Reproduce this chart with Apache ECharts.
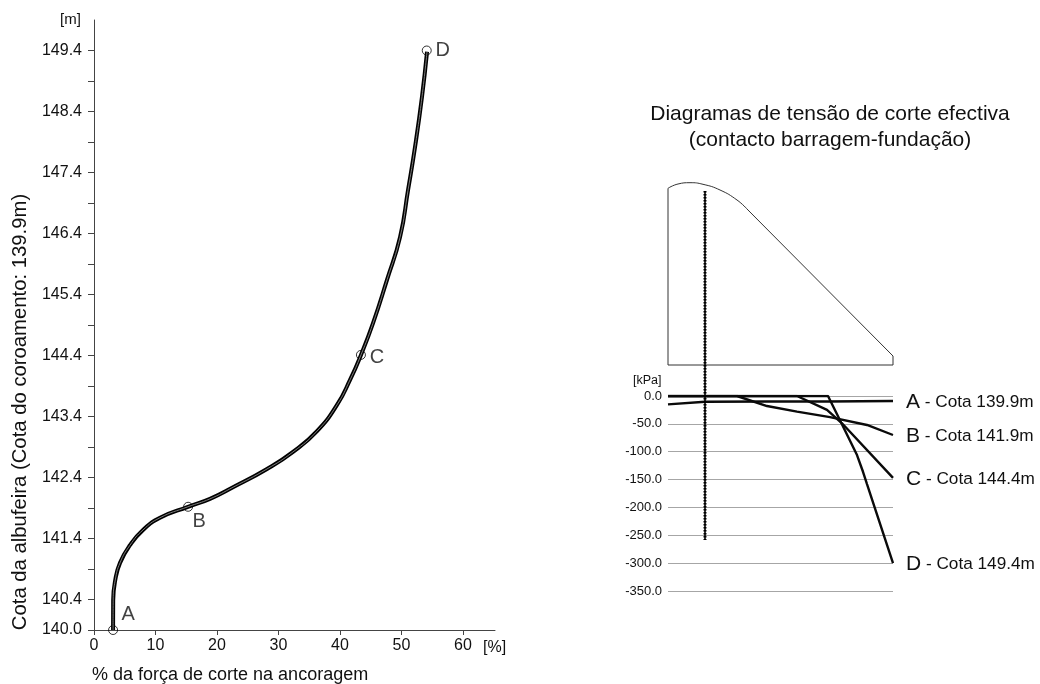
<!DOCTYPE html>
<html>
<head>
<meta charset="utf-8">
<style>html,body{margin:0;padding:0;background:#fff}#c{width:1040px;height:684px}</style>
<script src="https://cdn.jsdelivr.net/npm/echarts@6/dist/echarts.min.js"></script>
</head>
<body>
<div id="c"></div>
<script>
// Left chart: anchor shear force share against reservoir level
const forcePct = [3.1,3.12,3.46,4.23,5.85,7.97,10.73,15.28,18.86,22.6,28.13,32.36,36.26,39.51,41.63,43.41,45.37,47.64,49.76,51.06,52.2,53.33,54.15];
const level = [139.9,140.39,140.72,141.0,141.29,141.54,141.74,141.92,142.05,142.24,142.54,142.82,143.16,143.59,144.0,144.41,144.93,145.64,146.34,147.11,147.82,148.64,149.38];
const keyPoints = [['A',3.1,139.9],['B',15.3,141.92],['C',43.4,144.41],['D',54.1,149.4]];
const xTicks = [0,10,20,30,40,50,60];
const yTicks = [139.9,140.4,140.9,141.4,141.9,142.4,142.9,143.4,143.9,144.4,144.9,145.4,145.9,146.4,146.9,147.4,147.9,148.4,148.9,149.4];
const yLabelValues = [139.9,140.4,141.4,142.4,143.4,144.4,145.4,146.4,147.4,148.4,149.4];
const yLabelTexts = ['140.0','140.4','141.4','142.4','143.4','144.4','145.4','146.4','147.4','148.4','149.4'];

// Right chart: effective shear stress along the dam-foundation contact
const stressA = [[0,-15],[37,-10.2],[100,-10],[160,-10],[225,-9]];
const stressB = [[0,0],[69,0],[99,-18],[129,-28],[162,-38],[199,-52],[225,-70]];
const stressC = [[0,0],[129,0],[159,-25],[174,-49],[225,-147]];
const stressD = [[0,0],[160,0],[171,-40],[189,-106],[195,-136],[199,-158],[225,-300]];
const damCrest = [[0,176.7],[10,181],[22,182.3],[35,180.7],[52,175],[69,165],[79,156]];
const damBody = [[79,156],[225,9],[225,0],[0,0],[0,176.7]];
const anchorLine = [[37,174],[37,-175]];

const FONT = 'Liberation Sans, Arial, sans-serif';
const INK = '#111';
const stressSeries = [stressA, stressB, stressC, stressD].map(d => ({
  type: 'line', xAxisIndex: 1, yAxisIndex: 1, data: d, symbol: 'none', silent: true,
  lineStyle: { color: '#0a0a0a', width: 2.4 }
}));

const chart = echarts.init(document.getElementById('c'), null, { renderer: 'canvas' });
chart.setOption({
  animation: false,
  backgroundColor: '#fff',
  textStyle: { fontFamily: FONT },
  grid: [
    { left: 94, top: 20, width: 401, height: 610 },
    { left: 668, top: 396, width: 225, height: 195 },
    { left: 668, top: 180, width: 225, height: 420 }
  ],
  xAxis: [
    { type: 'value', gridIndex: 0, min: 0, max: 65.2, splitLine: { show: false },
      axisLine: { lineStyle: { color: '#444', width: 1 } },
      axisTick: { length: 5, lineStyle: { color: '#444' }, customValues: xTicks },
      axisLabel: { customValues: xTicks, color: INK, fontSize: 16, margin: 8, fontFamily: FONT } },
    { type: 'value', gridIndex: 1, min: 0, max: 225, show: false },
    { type: 'value', gridIndex: 2, min: 0, max: 225, show: false }
  ],
  yAxis: [
    { type: 'value', gridIndex: 0, min: 139.9, max: 149.9, splitLine: { show: false },
      axisLine: { show: true, lineStyle: { color: '#444', width: 1 } },
      axisTick: { show: true, length: 6, lineStyle: { color: '#444' }, customValues: yTicks },
      axisLabel: { customValues: yLabelValues, color: INK, fontSize: 16, margin: 12, fontFamily: FONT,
        formatter: v => yLabelTexts[yLabelValues.findIndex(t => Math.abs(t - v) < 0.01)] } },
    { type: 'value', gridIndex: 1, min: -350, max: 0, interval: 50,
      axisLine: { show: false }, axisTick: { show: false },
      splitLine: { show: true, lineStyle: { color: '#a6a6a6', width: 1.2 } },
      axisLabel: { color: INK, fontSize: 13, margin: 6, fontFamily: FONT, formatter: v => v.toFixed(1) } },
    { type: 'value', gridIndex: 2, min: -235, max: 185, show: false }
  ],
  series: [
    { type: 'line', data: forcePct.map((x, i) => [x, level[i]]), smooth: true, symbol: 'none', silent: true,
      lineStyle: { color: '#000', width: 4 } },
    { type: 'line', data: forcePct.map((x, i) => [x, level[i]]), smooth: true, symbol: 'none', silent: true,
      lineStyle: { color: '#8a8a8a', width: 0.9 } },
    { type: 'scatter', data: keyPoints.map(p => ({ name: p[0], value: [p[1], p[2]],
        label: { offset: { A: [15,-16], B: [11,15], C: [16,3], D: [16,0] }[p[0]] } })),
      symbol: 'circle', symbolSize: 9, clip: false, silent: true,
      itemStyle: { color: 'rgba(0,0,0,0)', borderColor: '#000', borderWidth: 1 },
      label: { show: true, position: 'inside', formatter: '{b}', fontSize: 20, color: INK, fontFamily: FONT } },
    ...stressSeries,
    { type: 'line', xAxisIndex: 2, yAxisIndex: 2, data: damCrest, smooth: true, symbol: 'none', silent: true,
      lineStyle: { color: '#333', width: 1 } },
    { type: 'line', xAxisIndex: 2, yAxisIndex: 2, data: damBody, symbol: 'none', silent: true,
      lineStyle: { color: '#333', width: 1 } },
    { type: 'line', xAxisIndex: 2, yAxisIndex: 2, data: anchorLine, symbol: 'none', silent: true,
      lineStyle: { color: '#000', width: 3, type: [1.5, 1.5] } },
    { type: 'line', xAxisIndex: 2, yAxisIndex: 2, data: anchorLine, symbol: 'none', silent: true,
      lineStyle: { color: '#000', width: 1.6 } }
  ],
  graphic: [
    { type: 'text', left: 60, top: 12, style: { text: '[m]', fontSize: 15, fill: INK, fontFamily: FONT } },
    { type: 'text', left: 483, top: 640, style: { text: '[%]', fontSize: 16, fill: INK, fontFamily: FONT } },
    { type: 'text', left: 92, top: 666, style: { text: '% da força de corte na ancoragem', fontSize: 18, fill: INK, fontFamily: FONT } },
    { type: 'text', x: 20, y: 412, rotation: Math.PI / 2, style: { text: 'Cota da albufeira (Cota do coroamento: 139.9m)', fontSize: 20.3, fill: INK, fontFamily: FONT, align: 'center', verticalAlign: 'middle' } },
    { type: 'text', x: 830, y: 114, style: { text: 'Diagramas de tensão de corte efectiva', fontSize: 21, fill: INK, fontFamily: FONT, align: 'center', verticalAlign: 'middle' } },
    { type: 'text', x: 830, y: 140, style: { text: '(contacto barragem-fundação)', fontSize: 21, fill: INK, fontFamily: FONT, align: 'center', verticalAlign: 'middle' } },
    { type: 'text', left: 633, top: 374, style: { text: '[kPa]', fontSize: 12.5, fill: INK, fontFamily: FONT } },
    ...[['A','Cota 139.9m',402],['B','Cota 141.9m',436],['C','Cota 144.4m',479],['D','Cota 149.4m',564]].map(r => ({
      type: 'text', x: 906, y: r[2], style: {
        text: '{b|' + r[0] + '}{s| - ' + r[1] + '}', fill: INK, fontFamily: FONT, verticalAlign: 'middle',
        rich: { b: { fontSize: 21, fontFamily: FONT, fill: INK }, s: { fontSize: 17.2, fontFamily: FONT, fill: INK } } } }))
  ]
});
</script>
</body>
</html>
